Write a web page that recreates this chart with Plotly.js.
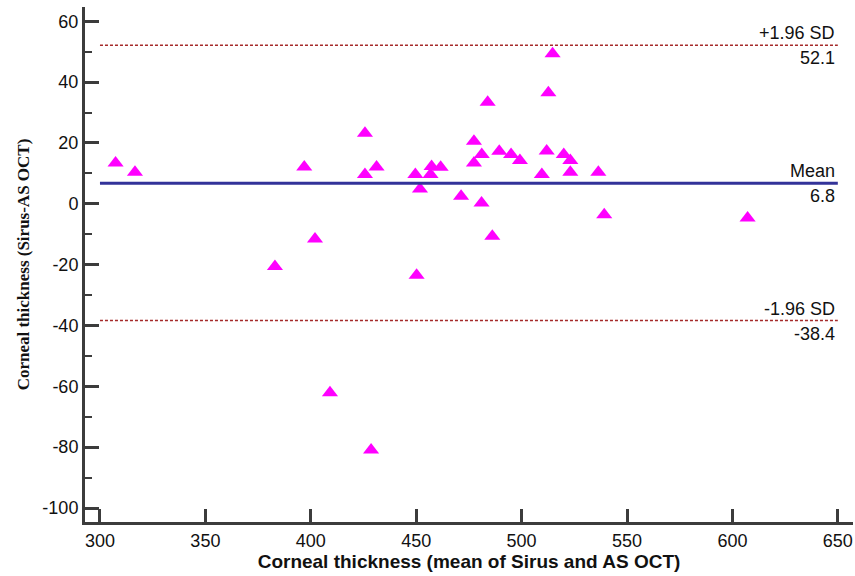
<!DOCTYPE html>
<html>
<head>
<meta charset="utf-8">
<script src="https://cdn.plot.ly/plotly-3.0.1.min.js"></script>
<style>html,body{margin:0;padding:0;background:#fff;}#chart{width:855px;height:576px;}</style>
</head>
<body>
<div id="chart"></div>
<script>
// Bland-Altman data: mean of Sirus and AS OCT (x) vs difference Sirus - AS OCT (y)
const meanThickness = [307.4, 316.6, 383.0, 396.9, 402.0, 409.1, 425.7, 425.7, 428.6, 431.2,
  449.6, 450.2, 451.8, 456.8, 457.3, 461.6, 471.3, 477.4, 477.4, 481.1,
  481.0, 483.9, 486.1, 489.4, 495.0, 499.2, 509.6, 511.9, 512.7, 514.7,
  520.0, 523.1, 523.1, 536.4, 539.2, 607.2];
const diffThickness = [13.4, 10.4, -20.6, 12.1, -11.6, -62.1, 23.2, 9.6, -80.9, 12.1,
  9.6, -23.5, 4.9, 9.6, 12.3, 12.0, 2.5, 20.6, 13.4, 16.2,
  0.3, 33.4, -10.7, 17.3, 16.2, 14.2, 9.6, 17.4, 36.5, 49.3,
  16.2, 14.2, 10.4, 10.4, -3.6, -4.7];
const meanDiff = 6.8;
const upperLoA = 52.1;
const lowerLoA = -38.4;
const lineXStart = 300;
const lineXEnd = 650;
const xTickVals = [300, 350, 400, 450, 500, 550, 600, 650];
const yTickVals = [-100, -80, -60, -40, -20, 0, 20, 40, 60];

const axisColor = '#3c3c3c';
const tickFont = {family: 'Liberation Sans, Arial, sans-serif', size: 18, color: '#111'};

const traces = [{
  type: 'scatter', mode: 'markers',
  x: meanThickness, y: diffThickness,
  marker: {symbol: 'triangle-up', size: 14, color: '#ff00ff'},
  hoverinfo: 'x+y', showlegend: false
}];

const shapes = [
  {type: 'line', xref: 'x', yref: 'y', x0: lineXStart, x1: lineXEnd, y0: meanDiff, y1: meanDiff,
   line: {color: '#333399', width: 3}},
  {type: 'line', xref: 'x', yref: 'y', x0: lineXStart, x1: lineXEnd, y0: upperLoA, y1: upperLoA,
   line: {color: '#a52a2a', width: 1.5, dash: '3px,2px'}},
  {type: 'line', xref: 'x', yref: 'y', x0: lineXStart, x1: lineXEnd, y0: lowerLoA, y1: lowerLoA,
   line: {color: '#a52a2a', width: 1.5, dash: '3px,2px'}}
];

const annFont = {family: 'Liberation Sans, Arial, sans-serif', size: 18, color: '#111'};
function ann(text, y, above) {
  return {xref: 'x', yref: 'y', x: lineXEnd, y: y, text: text, showarrow: false,
    xanchor: 'right', yanchor: above ? 'bottom' : 'top', yshift: above ? 0 : -1, xshift: -1,
    font: annFont};
}
const annotations = [
  ann('+1.96 SD', upperLoA, true), ann(upperLoA.toFixed(1), upperLoA, false),
  ann('Mean', meanDiff, true), ann(meanDiff.toFixed(1), meanDiff, false),
  ann('-1.96 SD', lowerLoA, true), ann(lowerLoA.toFixed(1), lowerLoA, false)
];

const layout = {
  width: 855, height: 576,
  margin: {l: 85, r: 2, t: 7, b: 54},
  paper_bgcolor: '#fff', plot_bgcolor: '#fff',
  showlegend: false,
  xaxis: {
    range: [292.9, 657.2], tickvals: xTickVals, ticktext: xTickVals.map(String),
    showgrid: false, zeroline: false, showline: true, linecolor: axisColor, linewidth: 3,
    ticks: 'inside', ticklen: 13, tickwidth: 3, tickcolor: axisColor,
    tickfont: tickFont,
    title: {text: 'Corneal thickness (mean of Sirus and AS OCT)',
      font: {family: 'Liberation Sans, Arial, sans-serif', size: 19, color: '#111', weight: 'bold'}, standoff: 4}
  },
  yaxis: {
    range: [-104.6, 64.7], tickvals: yTickVals, ticktext: yTickVals.map(String),
    showgrid: false, zeroline: false, showline: true, linecolor: axisColor, linewidth: 3,
    ticks: 'inside', ticklen: 14, tickwidth: 3, tickcolor: axisColor,
    tickfont: tickFont,
    minor: {ticks: 'inside', ticklen: 7, tickwidth: 2, tickcolor: axisColor, dtick: 10, tick0: 0, showgrid: false},
    title: {text: 'Corneal thickness (Sirus-AS OCT)',
      font: {family: 'Liberation Serif, Times New Roman, serif', size: 17, color: '#111', weight: 'bold'}, standoff: 9}
  },
  shapes: shapes,
  annotations: annotations
};

Plotly.newPlot('chart', traces, layout, {displayModeBar: false, staticPlot: true});
</script>
</body>
</html>
